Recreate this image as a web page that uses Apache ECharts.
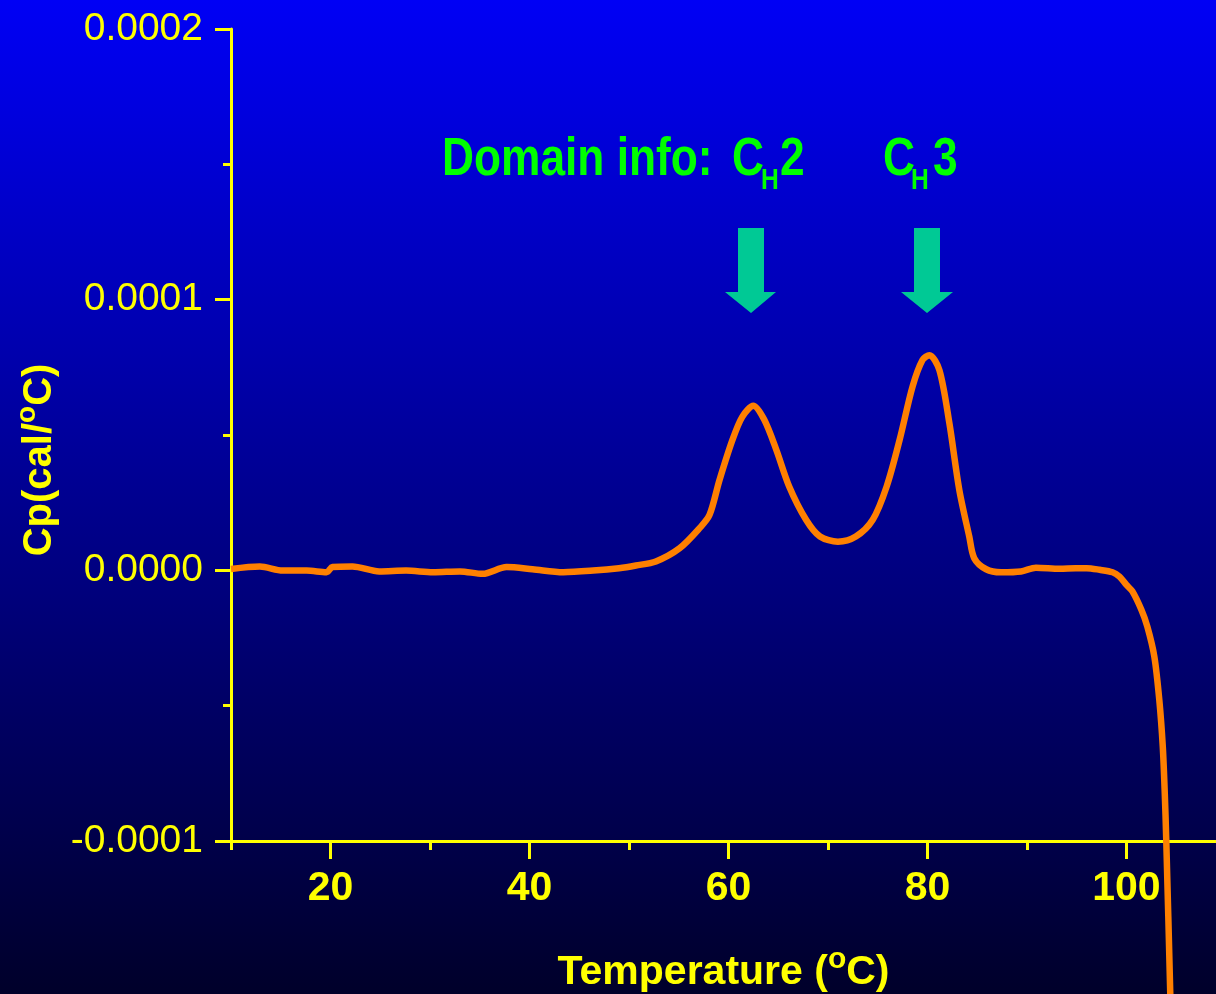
<!DOCTYPE html>
<html>
<head>
<meta charset="utf-8">
<title>DSC</title>
<script src="https://cdn.jsdelivr.net/npm/echarts@6/dist/echarts.min.js"></script>
<style>
  html, body { margin: 0; padding: 0; }
  #main { width: 1216px; height: 994px; }
</style>
</head>
<body>
<div id="main"></div>
<script>
// temperature (°C) and Cp (cal/°C)
var temps = [10.0, 12.9, 15.2, 17.6, 19.6, 20.2, 22.2, 24.9, 27.6, 30.3, 33.0, 35.3, 37.7, 40.3, 43.4, 46.4, 49.0,
  50.7, 52.7, 55.1, 57.1, 58.1, 59.1, 60.4, 61.4, 62.5, 63.6, 64.8, 66.1, 67.8, 69.2, 71.0, 72.8, 74.5,
  75.9, 77.2, 78.5, 79.5, 80.2, 81.2, 82.2, 83.2, 84.2, 84.7, 85.9, 87.4, 89.4, 90.9, 93.3, 94.9, 96.0,
  97.3, 98.6, 99.3, 100.0, 100.6, 101.5, 102.1, 102.8, 103.3, 103.65, 103.85, 104.0, 104.4, 104.6];
var cp = [0.05e-5, 0.14e-5, -0.01e-5, -0.01e-5, -0.07e-5, 0.12e-5, 0.14e-5, -0.04e-5, -0.01e-5, -0.07e-5, -0.04e-5, -0.13e-5, 0.12e-5, 0.04e-5, -0.07e-5, -0.01e-5, 0.08e-5,
  0.18e-5, 0.33e-5, 0.82e-5, 1.56e-5, 2.05e-5, 3.34e-5, 4.82e-5, 5.68e-5, 6.08e-5, 5.56e-5, 4.46e-5, 3.10e-5, 1.87e-5, 1.25e-5, 1.06e-5, 1.25e-5, 1.87e-5,
  3.10e-5, 4.82e-5, 6.79e-5, 7.77e-5, 7.95e-5, 7.40e-5, 5.44e-5, 2.97e-5, 1.25e-5, 0.45e-5, 0.04e-5, -0.07e-5, -0.04e-5, 0.10e-5, 0.06e-5, 0.08e-5, 0.08e-5,
  0.02e-5, -0.07e-5, -0.23e-5, -0.54e-5, -0.78e-5, -1.46e-5, -2.08e-5, -3.18e-5, -4.78e-5, -6.51e-5, -8.23e-5, -9.96e-5, -15.6e-5, -19.0e-5];

var xLabelTicks = [20, 40, 60, 80, 100];
var xMinorTicks = [10, 30, 50, 70, 90];
var domainNames = ['Domain info:', 'C', 'H', '2', 'C', 'H', '3'];

var yellow = '#FFFF00';
var green = '#00FF00';
var teal = '#00C995';
var font = "'Liberation Sans', Arial, sans-serif";

var chart = echarts.init(document.getElementById('main'));

var pts = [];
for (var i = 0; i < temps.length; i++) {
  pts.push([temps[i], cp[i]]);
}

// green label pieces, condensed by scaleX
function gtext(str, x, y, size) {
  return {
    type: 'text', x: x, y: y, scaleX: 0.82, z: 10,
    style: {
      text: str, x: 0, y: 0, fill: green,
      font: 'bold ' + size + 'px ' + font,
      textAlign: 'left', textVerticalAlign: 'middle'
    }
  };
}
function arrow(x0, x1, hx0, hx1, tipX) {
  return {
    type: 'polygon', z: 10,
    shape: { points: [[x0, 228], [x1, 228], [x1, 292], [hx1, 292], [tipX, 313], [hx0, 292], [x0, 292]] },
    style: { fill: teal }
  };
}

chart.setOption({
  backgroundColor: {
    type: 'linear', x: 0, y: 0, x2: 0, y2: 1,
    colorStops: [{ offset: 0, color: '#0000F5' }, { offset: 1, color: '#00002A' }]
  },
  animation: false,
  grid: { left: 231, top: 29, right: 0, bottom: 153, outerBoundsMode: 'none' },
  xAxis: [{
    type: 'value', min: 10, max: 109, interval: 10,
    axisLine: { show: true, onZero: false, lineStyle: { color: yellow, width: 3 } },
    axisTick: { show: true, length: 18, customValues: xLabelTicks, lineStyle: { color: yellow, width: 3 } },
    axisLabel: {
      customValues: xLabelTicks, margin: 27, color: yellow,
      fontFamily: font, fontWeight: 'bold', fontSize: 41
    },
    splitLine: { show: false },
    name: '{a|Temperature (}{s|o}{a|C)}',
    nameLocation: 'middle', nameGap: 104,
    nameTextStyle: {
      rich: {
        a: { color: yellow, fontFamily: font, fontWeight: 'bold', fontSize: 41, lineHeight: 56 },
        s: { color: yellow, fontFamily: font, fontWeight: 'bold', fontSize: 30, lineHeight: 30, verticalAlign: 'top' }
      }
    }
  }, {
    type: 'value', min: 10, max: 109, interval: 10, position: 'bottom', gridIndex: 0,
    axisLine: { show: false, onZero: false },
    axisTick: { show: true, length: 9, customValues: xMinorTicks, lineStyle: { color: yellow, width: 3 } },
    axisLabel: { show: false },
    splitLine: { show: false }
  }],
  yAxis: {
    type: 'value', min: -0.0001, max: 0.0002, interval: 0.0001,
    axisLine: { show: true, onZero: false, lineStyle: { color: yellow, width: 3 } },
    axisTick: { show: true, length: 16, lineStyle: { color: yellow, width: 3 } },
    minorTick: { show: true, splitNumber: 2, length: 8, lineStyle: { color: yellow, width: 3 } },
    axisLabel: {
      margin: 28, color: yellow, fontFamily: font, fontSize: 39,
      formatter: function (v) {
        if (Math.abs(v) < 1e-9) return '0.0000';
        return v.toFixed(4);
      }
    },
    splitLine: { show: false },
    name: '{a|Cp(cal/}{s|o}{a|C)}',
    nameLocation: 'middle', nameRotate: 90, nameGap: 162,
    nameTextStyle: {
      padding: [0, 50, 0, 0],
      rich: {
        a: { color: yellow, fontFamily: font, fontWeight: 'bold', fontSize: 40, lineHeight: 54 },
        s: { color: yellow, fontFamily: font, fontWeight: 'bold', fontSize: 28, lineHeight: 28, verticalAlign: 'top' }
      }
    }
  },
  series: [{
    type: 'line',
    data: pts,
    clip: false,
    smooth: 0.3,
    showSymbol: false,
    lineStyle: { color: '#FF8000', width: 6.5 }
  }],
  graphic: [
    gtext(domainNames[0], 442, 160, 54),
    gtext(domainNames[1], 732, 160, 54),
    gtext(domainNames[2], 761, 181, 30),
    gtext(domainNames[3], 780, 160, 54),
    gtext(domainNames[4], 883, 160, 54),
    gtext(domainNames[5], 911, 181, 30),
    gtext(domainNames[6], 933, 160, 54),
    arrow(738, 764, 725, 776, 751),
    arrow(914, 940, 901, 953, 927)
  ]
});
</script>
</body>
</html>
